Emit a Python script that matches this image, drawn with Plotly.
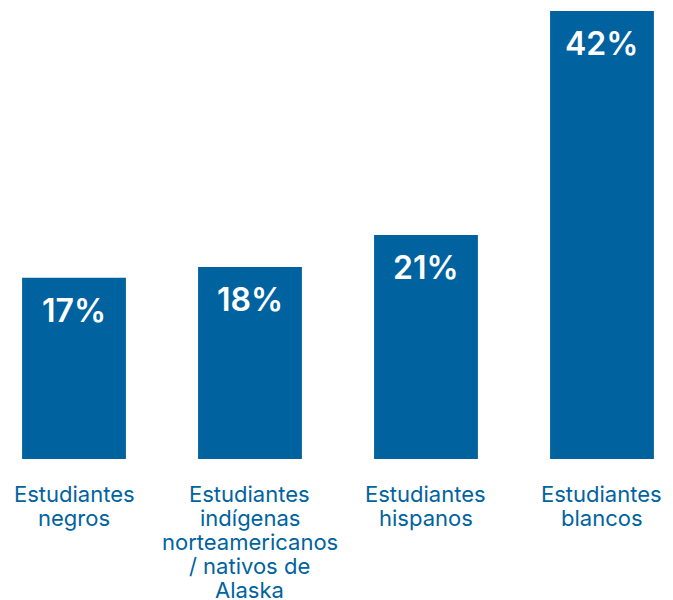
import plotly.graph_objects as go

categories = ["Estudiantes<br>negros",
              "Estudiantes<br>indígenas<br>norteamericanos<br>/ nativos de<br>Alaska",
              "Estudiantes<br>hispanos",
              "Estudiantes<br>blancos"]
values = [17, 18, 21, 42]
value_labels = ["17%", "18%", "21%", "42%"]

BLUE = "#0063a0"
x = list(range(len(categories)))

fig = go.Figure(go.Bar(x=x, y=values, width=0.59, marker_color=BLUE,
                       marker_line_width=0, hoverinfo="skip"))

annotations = []
for xi, v, lab in zip(x, values, value_labels):
    annotations.append(dict(x=xi, y=v, xref="x", yref="y", text=lab, showarrow=False,
                            yanchor="middle", yshift=-33,
                            font=dict(family="Inter", size=32, color="white", weight=600)))
for xi, cat in zip(x, categories):
    for i, line in enumerate(cat.split("<br>")):
        annotations.append(dict(x=xi, y=0, xref="x", yref="y", text=line, showarrow=False,
                                yanchor="middle", yshift=-35 - 24 * i,
                                font=dict(family="Inter", size=22, color=BLUE)))

fig.update_layout(
    width=673, height=600,
    margin=dict(l=0, r=0, t=0, b=149),
    paper_bgcolor="white", plot_bgcolor="white",
    xaxis=dict(range=[-0.375, 3.449], visible=False, fixedrange=True),
    yaxis=dict(range=[0, 42.28], visible=False, fixedrange=True),
    showlegend=False,
    annotations=annotations,
)
fig.write_html("out.html")
